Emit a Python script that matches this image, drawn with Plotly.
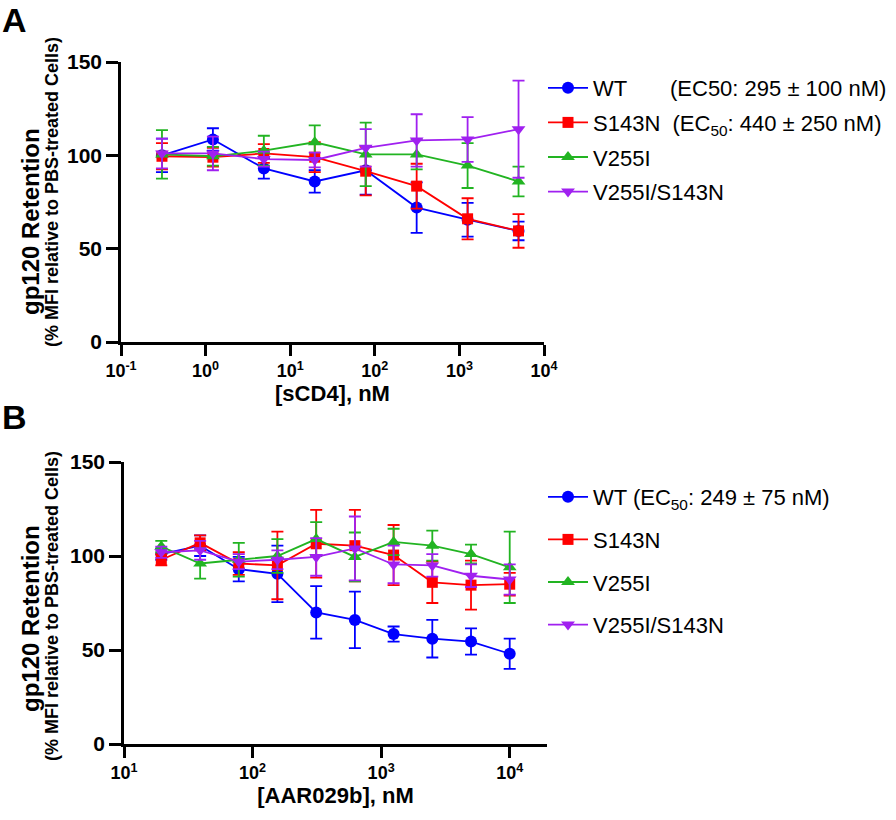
import plotly.graph_objects as go

# ---------------- data ----------------
conc_a = [0.305, 1.22, 4.88, 19.5, 78.1, 312.5, 1250, 5000]
wt_a = [100, 108.5, 93, 86, 92, 72, 65.5, 59.5]
wt_a_err = [9, 6, 5.5, 6, 13, 13.5, 9, 5]
s143n_a = [99.5, 99, 101, 99, 91.5, 83.5, 66, 59.5]
s143n_a_err = [7, 5, 5, 8, 13, 12, 11, 9]
v255i_a = [100.5, 99.5, 102.5, 107, 100.5, 100.5, 94.5, 86]
v255i_a_err = [13, 5, 8, 9, 17, 8, 12, 8]
dbl_a = [101, 101, 98, 97.5, 104, 108, 108.5, 114]
dbl_a_err = [8, 9, 4, 4, 10, 14, 12, 26]

conc_b = [19.5, 39.1, 78.1, 156, 312.5, 625, 1250, 2500, 5000, 10000]
wt_b = [101, 105.5, 93, 90.5, 70, 66, 58.5, 56, 54.5, 48]
wt_b_err = [3, 5.5, 6.5, 15, 14, 15, 4, 10, 7, 8]
s143n_b = [98, 107, 96, 95, 106.5, 105.5, 100.5, 86, 84.5, 85]
s143n_b_err = [3, 4, 6, 18, 18, 19, 16, 11, 13, 6]
v255i_b = [105, 96, 98, 100, 109, 99.5, 107.5, 105.5, 101, 94]
v255i_b_err = [3, 8, 9, 9, 9, 13, 7, 8, 5, 19]
dbl_b = [102, 103, 97, 98, 99.5, 104, 95.5, 95, 89.5, 87.5]
dbl_b_err = [3, 5, 4, 5, 10, 17, 10, 6, 6, 8]

names_a = ["WT" + "\u00a0" * 7 + "(EC50: 295 ± 100 nM)",
           "S143N\u00a0\u00a0(EC<sub>50</sub>: 440 ± 250 nM)",
           "V255I", "V255I/S143N"]
names_b = ["WT (EC<sub>50</sub>: 249 ± 75 nM)", "S143N", "V255I", "V255I/S143N"]

colors = ["#0000FF", "#FF0000", "#22B422", "#A020F0"]
symbols = ["circle", "square", "triangle-up", "triangle-down"]
sizes = [12, 11, 12, 12]

x_ticks_a = [0.1, 1, 10, 100, 1000, 10000]
x_ticktext_a = ["10<sup>-1</sup>", "10<sup>0</sup>", "10<sup>1</sup>", "10<sup>2</sup>",
                "10<sup>3</sup>", "10<sup>4</sup>"]
x_ticks_b = [10, 100, 1000, 10000]
x_ticktext_b = ["10<sup>1</sup>", "10<sup>2</sup>", "10<sup>3</sup>", "10<sup>4</sup>"]
y_ticks = [0, 50, 100, 150]

FONT = "Liberation Sans, Arial, Helvetica, sans-serif"

fig = go.Figure()

series_a = [(wt_a, wt_a_err), (s143n_a, s143n_a_err), (v255i_a, v255i_a_err), (dbl_a, dbl_a_err)]
series_b = [(wt_b, wt_b_err), (s143n_b, s143n_b_err), (v255i_b, v255i_b_err), (dbl_b, dbl_b_err)]

for i, (vals, errs) in enumerate(series_a):
    fig.add_trace(go.Scatter(
        x=conc_a, y=vals, name=names_a[i], mode="lines+markers",
        line=dict(color=colors[i], width=1.8),
        marker=dict(symbol=symbols[i], size=sizes[i], color=colors[i]),
        error_y=dict(type="data", array=errs, visible=True, color=colors[i],
                     thickness=1.8, width=6),
        xaxis="x", yaxis="y", legend="legend", legendgroup="a%d" % i,
        cliponaxis=False))

for i, (vals, errs) in enumerate(series_b):
    fig.add_trace(go.Scatter(
        x=conc_b, y=vals, name=names_b[i], mode="lines+markers",
        line=dict(color=colors[i], width=1.8),
        marker=dict(symbol=symbols[i], size=sizes[i], color=colors[i]),
        error_y=dict(type="data", array=errs, visible=True, color=colors[i],
                     thickness=1.8, width=6),
        xaxis="x2", yaxis="y2", legend="legend2", legendgroup="b%d" % i,
        cliponaxis=False))

W, H = 896, 820
L, R, T, B = 121, 547, 62, 744   # plot-area box in pixels
def px_x(p):
    return (p - L) / (R - L)
def px_y(p):
    return (B - p) / (B - T)

xaxis_common = dict(type="log", showline=True, linecolor="black", linewidth=2.5,
                    ticks="outside", ticklen=11, tickwidth=2.5, tickcolor="black",
                    showgrid=False, zeroline=False, automargin=False,
                    tickfont=dict(family=FONT, size=18, color="black", weight="bold"),
                    title_font=dict(family=FONT, size=22, color="black", weight="bold"))
yaxis_common = dict(range=[0, 150], tickvals=y_ticks, showline=True, linecolor="black",
                    linewidth=2.5, ticks="outside", ticklen=12, tickwidth=2.5,
                    tickcolor="black", showgrid=False, zeroline=False, automargin=False,
                    tickfont=dict(family=FONT, size=21, color="black", weight="bold"))

fig.update_layout(
    width=W, height=H, autosize=False,
    margin=dict(l=L, r=W - R, t=T, b=H - B, autoexpand=False),
    paper_bgcolor="white", plot_bgcolor="white",
    font=dict(family=FONT, color="black"),
    xaxis=dict(domain=[px_x(121), px_x(544)], range=[-1, 4], anchor="y",
               tickvals=x_ticks_a, ticktext=x_ticktext_a,
               title=dict(text="[sCD4], nM", standoff=6), **xaxis_common),
    yaxis=dict(domain=[px_y(342), px_y(62)], anchor="x", **yaxis_common),
    xaxis2=dict(domain=[px_x(124), px_x(547)], range=[1, 4.29], anchor="y2",
                tickvals=x_ticks_b, ticktext=x_ticktext_b,
                title=dict(text="[AAR029b], nM", standoff=6), **xaxis_common),
    yaxis2=dict(domain=[px_y(744), px_y(462)], anchor="x2", **yaxis_common),
    legend=dict(x=px_x(543), y=px_y(67), xanchor="left", yanchor="top",
                font=dict(family=FONT, size=22, color="black"),
                tracegroupgap=3, itemwidth=40, bgcolor="rgba(0,0,0,0)"),
    legend2=dict(x=px_x(543), y=px_y(476), xanchor="left", yanchor="top",
                 font=dict(family=FONT, size=22, color="black"),
                 tracegroupgap=11, itemwidth=40, bgcolor="rgba(0,0,0,0)"),
)

ann = [
    dict(text="<b>A</b>", x=px_x(0), y=px_y(-1), xanchor="left", yanchor="top",
         font=dict(size=34)),
    dict(text="<b>B</b>", x=px_x(0), y=px_y(396), xanchor="left", yanchor="top",
         font=dict(size=34)),
    dict(text="<b>gp120 Retention</b>", x=px_x(30), y=px_y(222), textangle=-90,
         xanchor="center", yanchor="middle", font=dict(size=24)),
    dict(text="<b>(% MFI relative to PBS-treated Cells)</b>", x=px_x(52), y=px_y(192),
         textangle=-90, xanchor="center", yanchor="middle", font=dict(size=18)),
    dict(text="<b>gp120 Retention</b>", x=px_x(30), y=px_y(619), textangle=-90,
         xanchor="center", yanchor="middle", font=dict(size=24)),
    dict(text="<b>(% MFI relative to PBS-treated Cells)</b>", x=px_x(52), y=px_y(606),
         textangle=-90, xanchor="center", yanchor="middle", font=dict(size=18)),
]
for a in ann:
    a.update(xref="paper", yref="paper", showarrow=False)
    a["font"].update(family=FONT, color="black")
fig.update_layout(annotations=ann)

fig.write_html("out.html", config={"displayModeBar": False},
               post_script="document.body.style.margin='0px';document.body.style.overflow='hidden';")
